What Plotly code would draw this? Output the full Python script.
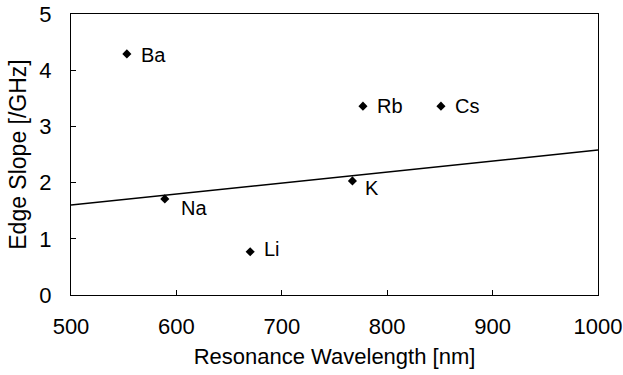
import plotly.graph_objects as go

# Alkali / alkaline-earth resonance lines and measured edge slopes
elements = ["Ba", "Na", "Li", "K", "Rb", "Cs"]
wavelength_nm = [553, 589, 670, 767, 777, 851]
edge_slope = [4.29, 1.71, 0.77, 2.03, 3.36, 3.36]
# label offsets (px) relative to each point
label_dx = [12, 14, 12, 11, 12, 12]
label_dy = [-1, -9, 3, -7, 0, 0]

# Reference trend line
line_x = [500, 1000]
line_y = [1.6, 2.58]

x_ticks = [500, 600, 700, 800, 900, 1000]
y_ticks = [0, 1, 2, 3, 4, 5]

font_family = "Liberation Sans, Arial, sans-serif"

fig = go.Figure()
fig.add_trace(go.Scatter(
    x=line_x, y=line_y, mode="lines",
    line=dict(color="black", width=1.5),
    hoverinfo="skip", showlegend=False,
))
fig.add_trace(go.Scatter(
    x=wavelength_nm, y=edge_slope, mode="markers",
    marker=dict(symbol="diamond", size=7, color="black"),
    showlegend=False,
))

for name, x, y, dx, dy in zip(elements, wavelength_nm, edge_slope, label_dx, label_dy):
    fig.add_annotation(
        x=x, y=y, text=name, showarrow=False,
        xanchor="left", yanchor="middle",
        xshift=dx, yshift=dy,
        font=dict(family=font_family, size=20, color="black"),
    )

fig.update_layout(
    width=623, height=375,
    margin=dict(l=71, r=25, t=14, b=80),
    paper_bgcolor="white", plot_bgcolor="white",
    font=dict(family=font_family, color="black"),
)
fig.update_xaxes(
    range=[500, 1000], tickvals=x_ticks,
    ticks="inside", ticklen=5, tickcolor="black",
    showline=True, linecolor="black", linewidth=1, mirror=True,
    showgrid=False, zeroline=False, automargin=False,
    tickfont=dict(size=22), ticklabelstandoff=12,
    title=dict(text="Resonance Wavelength [nm]", font=dict(size=22), standoff=10),
)
fig.update_yaxes(
    range=[0, 5], tickvals=y_ticks,
    ticks="inside", ticklen=5, tickcolor="black",
    showline=True, linecolor="black", linewidth=1, mirror=True,
    showgrid=False, zeroline=False, automargin=False,
    tickfont=dict(size=22), ticklabelstandoff=14,
    title=dict(text="Edge Slope [/GHz]", font=dict(size=23), standoff=6),
)

fig.write_html("out.html")
